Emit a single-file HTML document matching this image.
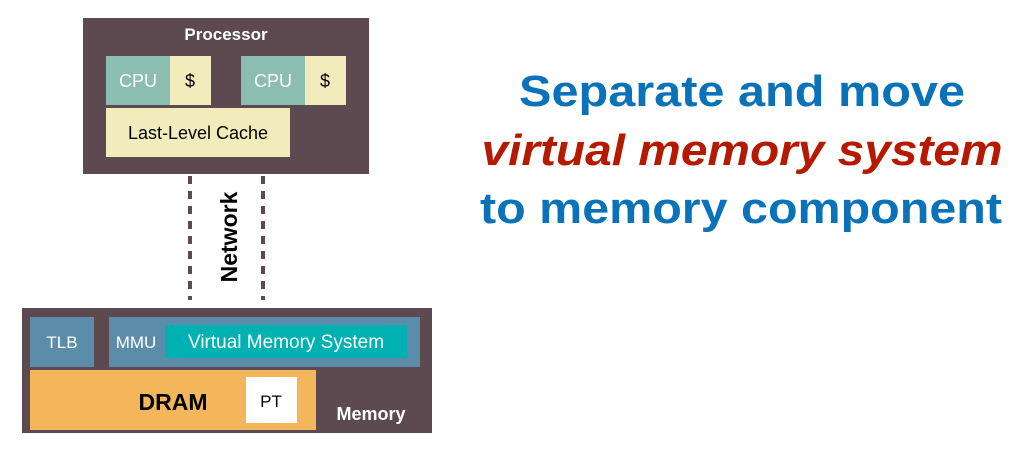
<!DOCTYPE html>
<html><head><meta charset="utf-8"><style>
body{margin:0;background:#fff;width:1029px;height:445px;overflow:hidden}
</style></head><body>
<svg width="1029" height="445" xmlns="http://www.w3.org/2000/svg" font-family="Liberation Sans, Arial, sans-serif">
<rect x="83" y="18" width="286" height="156" fill="#5d4a50"/>
<text x="226" y="40" fill="#fff" font-weight="bold" font-size="17" text-anchor="middle">Processor</text>
<rect x="106" y="56" width="64" height="49" fill="#8bbdb0"/>
<rect x="170" y="56" width="41" height="49" fill="#f2ecbc"/>
<rect x="241" y="56" width="64" height="49" fill="#8bbdb0"/>
<rect x="305" y="56" width="41" height="49" fill="#f2ecbc"/>
<text x="138" y="87" fill="#fff" font-size="18" text-anchor="middle">CPU</text>
<text x="190" y="87" fill="#000" font-size="18" text-anchor="middle">$</text>
<text x="273" y="87" fill="#fff" font-size="18" text-anchor="middle">CPU</text>
<text x="325" y="87" fill="#000" font-size="18" text-anchor="middle">$</text>
<rect x="106" y="108" width="184" height="49" fill="#f2ecbc"/>
<text x="198" y="139" fill="#000" font-size="18" text-anchor="middle">Last-Level Cache</text>
<line x1="190" y1="176" x2="190" y2="300" stroke="#5d4a50" stroke-width="4" stroke-dasharray="8,7"/>
<line x1="263" y1="176" x2="263" y2="300" stroke="#5d4a50" stroke-width="4" stroke-dasharray="8,7"/>
<text transform="translate(237,237) rotate(-90)" fill="#000" font-weight="bold" font-size="23" text-anchor="middle">Network</text>
<rect x="22" y="308" width="410" height="125" fill="#5d4a50"/>
<rect x="30" y="317" width="64" height="50" fill="#5b8dab"/>
<text x="62" y="348" fill="#fff" font-size="17" text-anchor="middle">TLB</text>
<rect x="109" y="317" width="311" height="50" fill="#5b8dab"/>
<text x="136" y="348" fill="#fff" font-size="17" text-anchor="middle">MMU</text>
<rect x="165" y="325" width="242" height="33" fill="#00b1b1"/>
<text x="286" y="348" fill="#fff" font-size="19" text-anchor="middle">Virtual Memory System</text>
<rect x="30" y="370" width="286" height="60" fill="#f3b65a"/>
<text x="173" y="410" fill="#000" font-weight="bold" font-size="23" text-anchor="middle">DRAM</text>
<rect x="246" y="377" width="51" height="46" fill="#fff"/>
<text x="271" y="407" fill="#000" font-size="17" text-anchor="middle">PT</text>
<text x="371" y="420" fill="#fff" font-weight="bold" font-size="18" text-anchor="middle">Memory</text>
<text x="742" y="106" fill="#0a72b8" font-weight="bold" font-size="44" text-anchor="middle" textLength="446" lengthAdjust="spacingAndGlyphs">Separate and move</text>
<text x="742" y="165" fill="#b51a00" font-weight="bold" font-style="italic" font-size="44" text-anchor="middle" textLength="521" lengthAdjust="spacingAndGlyphs">virtual memory system</text>
<text x="741" y="223" fill="#0a72b8" font-weight="bold" font-size="44" text-anchor="middle" textLength="522" lengthAdjust="spacingAndGlyphs">to memory component</text>
</svg>
</body></html>
